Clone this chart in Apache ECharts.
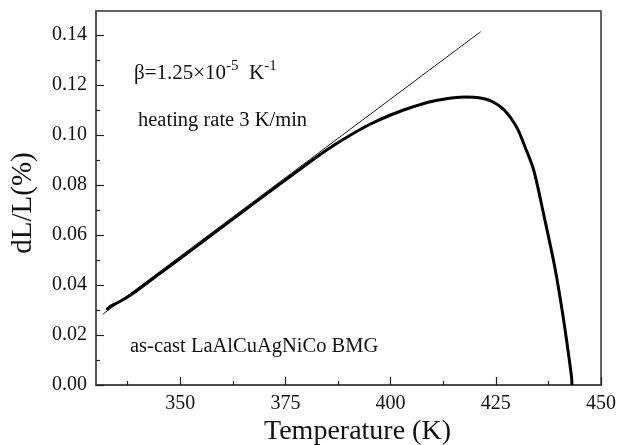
<!DOCTYPE html>
<html>
<head>
<meta charset="utf-8">
<script src="https://cdn.jsdelivr.net/npm/echarts@6/dist/echarts.min.js"></script>
<style>
html,body{margin:0;padding:0;background:#fff;}
#chart{width:622px;height:445px;}
</style>
</head>
<body>
<div id="chart"></div>
<script>
// Measured curve (thick)
const thickT = [332.5, 333.2, 335, 337.5, 340, 345, 350, 355, 360, 365, 370, 375, 380, 385, 390, 395, 400, 405, 410, 415, 418, 421, 424, 427, 430, 432, 434, 436.5, 439, 441, 443, 443.1];
const thickL = [0.0300, 0.0312, 0.0328, 0.0352, 0.0381, 0.0444, 0.0506, 0.0569, 0.0632, 0.0695, 0.0758, 0.0820, 0.0882, 0.0942, 0.0995, 0.1042, 0.1080, 0.1111, 0.1135, 0.1149, 0.1152, 0.1149, 0.1135, 0.1100, 0.1030, 0.0950, 0.0860, 0.0673, 0.0473, 0.0273, 0.0033, 0.0];
// Linear fit (thin)
const thinT = [331.6, 421.4];
const thinL = [0.0283, 0.1413];
// Axis ticks
const xTickLabels = [350, 375, 400, 425, 450];
const xMinorTicks = [337.5, 362.5, 387.5, 412.5, 437.5];
const yTickLabels = [0, 0.02, 0.04, 0.06, 0.08, 0.10, 0.12, 0.14];
const yMinorTicks = [0.01, 0.03, 0.05, 0.07, 0.09, 0.11, 0.13];

const serif = 'Liberation Serif, Times New Roman, serif';
const chart = echarts.init(document.getElementById('chart'), null, {renderer: 'canvas'});
const grid = {left: 96, top: 11, right: 21, bottom: 60, show: true, borderColor: '#333', borderWidth: 1.5, backgroundColor: 'transparent'};
const xBase = {type: 'value', min: 330, max: 450, gridIndex: 0, splitLine: {show: false}};
const yBase = {type: 'value', min: 0, max: 0.1496, gridIndex: 0, splitLine: {show: false}};

chart.setOption({
  animation: false,
  grid: grid,
  xAxis: [
    Object.assign({}, xBase, {
      axisLine: {show: true, lineStyle: {color: '#444', width: 1.5}},
      axisTick: {show: true, inside: true, length: 8, customValues: xTickLabels, lineStyle: {color: '#222', width: 1.2}},
      axisLabel: {show: true, customValues: xTickLabels, margin: 9, fontFamily: serif, fontSize: 20, color: '#111'}
    }),
    Object.assign({}, xBase, {
      position: 'bottom',
      axisLine: {show: false},
      axisTick: {show: true, inside: true, length: 4, customValues: xMinorTicks, lineStyle: {color: '#222', width: 1.2}},
      axisLabel: {show: false}
    })
  ],
  yAxis: [
    Object.assign({}, yBase, {
      axisLine: {show: true, lineStyle: {color: '#555', width: 1.8}},
      axisTick: {show: true, inside: true, length: 8, customValues: yTickLabels, lineStyle: {color: '#222', width: 1.2}},
      axisLabel: {show: true, customValues: yTickLabels, margin: 9, fontFamily: serif, fontSize: 20, color: '#111',
        formatter: v => v.toFixed(2)}
    }),
    Object.assign({}, yBase, {
      position: 'left',
      axisLine: {show: false},
      axisTick: {show: true, inside: true, length: 4, customValues: yMinorTicks, lineStyle: {color: '#222', width: 1.2}},
      axisLabel: {show: false}
    })
  ],
  series: [
    {
      type: 'line', xAxisIndex: 0, yAxisIndex: 0, showSymbol: false, smooth: 0.3,
      data: thinT.map((t, i) => [t, thinL[i]]),
      lineStyle: {color: '#000', width: 0.9}
    },
    {
      type: 'line', xAxisIndex: 0, yAxisIndex: 0, showSymbol: false, smooth: 0.3,
      data: thickT.map((t, i) => [t, thickL[i]]),
      lineStyle: {color: '#000', width: 3}
    }
  ],
  graphic: [
    {
      type: 'text', left: 134, top: 59,
      style: {
        text: '{a|β=1.25×10}{s|-5}{a|  K}{s|-1}',
        rich: {
          a: {fontFamily: serif, fontSize: 21, fill: '#111', lineHeight: 25, verticalAlign: 'bottom'},
          s: {fontFamily: serif, fontSize: 15, fill: '#111', lineHeight: 25, verticalAlign: 'top'}
        }
      }
    },
    {type: 'text', x: 138, y: 121, style: {text: 'heating rate 3 K/min', fontFamily: serif, fontSize: 20.5, fill: '#111', verticalAlign: 'middle'}},
    {type: 'text', x: 130, y: 347, style: {text: 'as-cast LaAlCuAgNiCo BMG', fontFamily: serif, fontSize: 20.5, fill: '#111', verticalAlign: 'middle'}},
    {type: 'text', x: 357.5, y: 432, style: {text: 'Temperature (K)', fontFamily: serif, fontSize: 28, fill: '#111', align: 'center', verticalAlign: 'middle'}},
    {type: 'text', x: 23, y: 203, rotation: Math.PI / 2, style: {text: 'dL/L(%)', fontFamily: serif, fontSize: 29, fill: '#111', align: 'center', verticalAlign: 'middle'}}
  ]
});
</script>
</body>
</html>
